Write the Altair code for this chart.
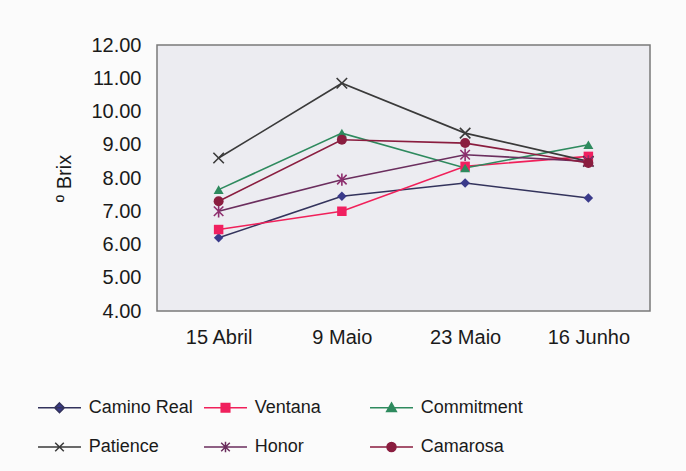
import altair as alt
import pandas as pd

dates = ["15 Abril", "9 Maio", "23 Maio", "16 Junho"]
series_names = ["Camino Real", "Ventana", "Commitment", "Patience", "Honor", "Camarosa"]
camino_real = [6.2, 7.45, 7.85, 7.4]
ventana = [6.45, 7.0, 8.35, 8.65]
commitment = [7.65, 9.35, 8.3, 9.0]
patience = [8.6, 10.85, 9.35, 8.5]
honor = [7.0, 7.95, 8.7, 8.5]
camarosa = [7.3, 9.15, 9.05, 8.45]
y_ticks = [4, 5, 6, 7, 8, 9, 10, 11, 12]

all_values = [camino_real, ventana, commitment, patience, honor, camarosa]
rows = []
for name, vals in zip(series_names, all_values):
    for d, v in zip(dates, vals):
        rows.append({"date": d, "series": name, "brix": v})
df = pd.DataFrame(rows)

line_colors = ["#33335C", "#F0205A", "#2E8A5E", "#3A3A3A", "#6B2E5E", "#8A1D3F"]
marker_colors = ["#3A3A8A", "#F02060", "#2E8A5E", "#3A3A3A", "#8E2E6E", "#8A1D3F"]
marker_shapes = [
    "diamond",
    "square",
    "triangle-up",
    "M-1,-1L1,1M-1,1L1,-1",
    "M-1,-1L1,1M-1,1L1,-1M0,-1.3L0,1.3",
    "circle",
]
marker_filled = [True, True, True, False, False, True]
marker_sizes = [90, 90, 100, 110, 90, 100]
legend_paths = [
    "M-2,0H2M0,-0.45L0.45,0L0,0.45L-0.45,0Z",
    "M-2,0H2M-0.4,-0.4H0.4V0.4H-0.4Z",
    "M-2,0H2M0,-0.45L0.45,0.35H-0.45Z",
    "M-2,0H2M-0.4,-0.4L0.4,0.4M-0.4,0.4L0.4,-0.4",
    "M-2,0H2M-0.4,-0.4L0.4,0.4M-0.4,0.4L0.4,-0.4M0,-0.5V0.5",
    "M-2,0H2M0.42,0A0.42,0.42 0 1,1 -0.42,0A0.42,0.42 0 1,1 0.42,0Z",
]

FONT = "Liberation Sans"

x_enc = alt.X(
    "date:N",
    sort=dates,
    scale=alt.Scale(type="point", domain=dates, padding=0.5),
    axis=alt.Axis(
        title=None, labelAngle=0, ticks=False, domain=False, grid=False,
        labelFontSize=20, labelFont=FONT, labelColor="#1a1a1a", labelPadding=16,
    ),
)
y_enc = alt.Y(
    "brix:Q",
    scale=alt.Scale(domain=[4, 12], nice=False, zero=False),
    axis=alt.Axis(
        title="º Brix", values=y_ticks, format=".2f", ticks=False, domain=False,
        grid=False, labelFontSize=20, labelFont=FONT, labelColor="#1a1a1a",
        labelPadding=16, titleFontSize=20, titleFont=FONT, titleFontWeight="normal",
        titleColor="#1a1a1a", titlePadding=16,
    ),
)

lines = alt.Chart(df).mark_line(strokeWidth=1.6).encode(
    x=x_enc,
    y=y_enc,
    color=alt.Color("series:N", scale=alt.Scale(domain=series_names, range=line_colors), legend=None),
)

point_layers = []
for name, shp, filled, size, col in zip(series_names, marker_shapes, marker_filled, marker_sizes, marker_colors):
    point_layers.append(
        alt.Chart(df)
        .transform_filter(alt.datum.series == name)
        .mark_point(shape=shp, filled=filled, size=size, strokeWidth=1.6, color=col, opacity=1)
        .encode(x=x_enc, y=y_enc)
    )

leg = alt.Legend(
    title=None, orient="none", legendX=-109, legendY=351, columns=3, gridAlign="all",
    direction="horizontal",
    columnPadding=8, rowPadding=18.5, labelOffset=17.75, symbolSize=462,
    symbolStrokeWidth=1.5, symbolOpacity=1, labelFontSize=18, labelFont=FONT,
    labelColor="#1a1a1a", padding=0, labelLimit=0,
)

legend_layer = alt.Chart(df).mark_point(opacity=0, filled=True).encode(
    x=x_enc,
    y=y_enc,
    fill=alt.Fill("series:N", scale=alt.Scale(domain=series_names, range=marker_colors), legend=leg),
    stroke=alt.Stroke("series:N", scale=alt.Scale(domain=series_names, range=line_colors), legend=leg),
    shape=alt.Shape("series:N", scale=alt.Scale(domain=series_names, range=legend_paths), legend=leg),
)

chart = (
    alt.layer(lines, *point_layers, legend_layer)
    .resolve_scale(color="independent")
    .properties(
        width=493,
        height=266,
        autosize=alt.AutoSizeParams(type="none"),
        padding={"left": 157, "top": 45, "right": 36, "bottom": 160},
        background="#FBFBFB",
    )
    .configure_view(fill="#ECECF1", stroke="#7A7A7A", strokeWidth=1.5)
)

chart.save("out.html", embed_options={"renderer": "svg", "actions": False})
